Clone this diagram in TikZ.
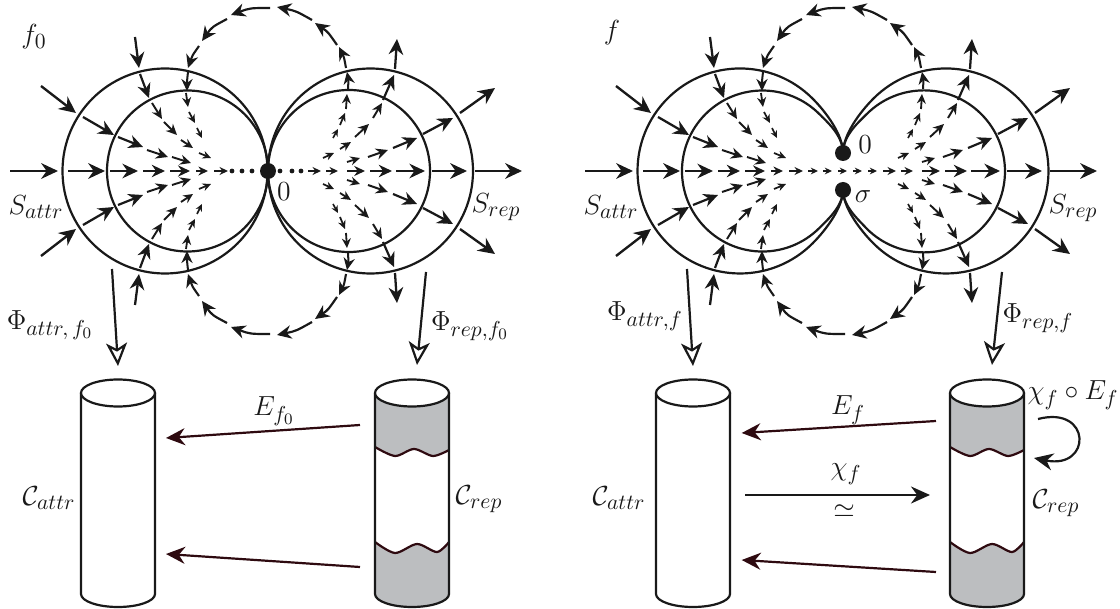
\documentclass[tikz,border=0pt]{standalone}
\usepackage{fix-cm}
\usepackage{amsmath}
\usepackage{amssymb}
\usetikzlibrary{arrows.meta}
\definecolor{maroonline}{HTML}{2E0A10}
\definecolor{drumgray}{HTML}{BCBEC0}
\DeclareMathSizes{13.8}{13.8}{10.8}{8}

% one arrow of the flow, tip size in the last value
\newcommand{\flowseg}[6][--]{%
	\pgfmathsetmacro{\tiplen}{0.6*#6}
	\pgfmathsetmacro{\tipwid}{0.56*#6}
	\pgfmathsetmacro{\wid}{0.55+0.045*#6}
	\draw[line width=\wid pt, black!90, -{Stealth[length=\tiplen pt, width=\tipwid pt]}] (#2,#3) #1 (#4,#5);
}

% upper half of the flow lines
\newcommand{\flowhalf}{%
	\foreach \xa/\ya/\xb/\yb/\s in {
		41/86/76/113/14, 83/117/114/135/13, 118/137/143/147/12, 147/150/168/157/10, 172/157/191/163/9,
		135/37/139/68/13, 140/74/149/98/12, 152/103/162/119/9, 164/122/177/135/9, 181/140/193/148/8, 199/153/211/158/7,
		347/162/360/158/8, 368/157/388/150/10, 393/148/417/138/12, 423/134/453/118/13, 460/113/495/88/14,
		323/158/334/153/7, 340/149/351/142/8, 355/137/369/124/9, 373/118/382/103/9, 383/100/394/75/12, 395/69/397/39/13,
		333/138/338/129/6, 340/125/345/113/7, 346/109/347/94/8, 189/112/195/123/7, 197/128/202/138/6, 186/93/188/107/8}
		{\flowseg{\xa}{\ya}{\xb}{\yb}{\s}}
	% the big arc over the top
	\foreach \xa/\ya/\xc/\yc/\xb/\yb/\s in {
		348/89/348.5/80/347/72/10, 346/68/344/57/339/47/11, 337/45/328/32/315/23/12, 312/20/296/11/277/7/12,
		270/8/250/8/231/15/12, 227/19/212/27/202/41/12, 199/46/192/56/188/68/11, 188/72/187/81/187/91/10}
		{\flowseg[.. controls (\xc,\yc) ..]{\xa}{\ya}{\xb}{\yb}{\s}}
}

% whole flow with the axis
\newcommand{\flowfield}{%
	\flowhalf
	\begin{scope}[shift={(0,342)}, yscale=-1]
		\flowhalf
	\end{scope}
	\foreach \xa/\xb/\s in {10/58/14, 68/105/14, 110/138/13, 143/165/11, 170/190/10, 196/208/8, 214/228/7,
		308/321/7, 326/338/7, 347/365/9, 370/392/11, 396/425/13, 432/467/14, 475/522/14}
		{\flowseg{\xa}{171}{\xb}{171}{\s}}
}

% plain drum at x centre
\newcommand{\drum}[1]{%
	\draw[drumline] ({#1-37},393) -- ({#1-37},594) arc[start angle=180, end angle=0, x radius=37, y radius=13] -- ({#1+37},393);
	\draw[drumline, fill=white] (#1,393) ellipse [x radius=37, y radius=13.5];
}

% drum with shaded ends
\newcommand{\shadeddrum}{%
	\fill[drumgray] (375,393) -- plot[smooth] coordinates {(375,447) (395,456) (414,449) (433,456) (449,450)} -- (449,393) -- cycle;
	\fill[drumgray] (375,594) -- plot[smooth] coordinates {(375,542) (395,553) (417,544) (437,552) (449,542)} -- (449,594) arc[start angle=0, end angle=180, x radius=37, y radius=13] -- cycle;
	\draw[waveline] plot[smooth] coordinates {(375,447) (395,456) (414,449) (433,456) (449,450)};
	\draw[waveline] plot[smooth] coordinates {(375,542) (395,553) (417,544) (437,552) (449,542)};
	\drum{412}
}

\begin{document}
\begin{tikzpicture}[
		x=0.5pt, y=-0.5pt,
		font=\fontsize{13.8}{16}\selectfont,
		ring/.style={line width=1.1pt, black!90},
		bigdot/.style={circle, fill=black!90, inner sep=0pt, minimum size=8pt},
		tinydot/.style={circle, fill=black!90, inner sep=0pt, minimum size=2.4pt},
		lab/.style={inner sep=0pt, black!90},
		drumline/.style={line width=1.1pt, black!90},
		waveline/.style={line width=1.1pt, maroonline},
		mapline/.style={line width=1.1pt, maroonline, -{Stealth[length=9.5pt, width=8.5pt]}},
		plainmap/.style={line width=1.1pt, black!90, -{Stealth[length=9.5pt, width=8.5pt]}},
		proj/.style={line width=1.1pt, black!90, -{Stealth[open, fill=white, length=11.5pt, width=10.5pt, inset=3pt]}}
		]
	\useasboundingbox (0,0) rectangle (1120,609);
	
	% Left picture
	\draw[ring] (165,171) circle [radius=102.5];
	\draw[ring] (187.5,171) circle [radius=80.5];
	\draw[ring] (370.5,171) circle [radius=102.5];
	\draw[ring] (349,171) circle [radius=81];
	\flowfield
	\foreach \x in {232,242,252,280,292,301}
		\node[tinydot] (dot\x) at (\x,171) {};
	\node[bigdot] (zero) at (268,171) {};
	\node[lab] (zerolab) at (284,192) {$0$};
	\node[lab] (flab) at (34,37) {$f_0$};
	\node[lab] (sattr) at (36,207) {$S_{attr}$};
	\node[lab] (srep) at (496,207) {$S_{rep}$};
	\node[lab] (phiattr) at (50,325) {$\Phi_{attr,\,f_0}$};
	\node[lab] (phirep) at (470,326) {$\Phi_{rep,f_0}$};
	
	% Projections
	\coordinate (pa0) at (112,269);
	\coordinate (pa1) at (118,366);
	\coordinate (pr0) at (426,272);
	\coordinate (pr1) at (417,365);
	\draw[proj] (pa0) -- (pa1);
	\draw[proj] (pr0) -- (pr1);
	
	% Drums
	\drum{118}
	\shadeddrum
	\node[lab] (cattr) at (49,498) {$\mathcal{C}_{attr}$};
	\node[lab] (crep) at (479,499) {$\mathcal{C}_{rep}$};
	
	\coordinate (ea0) at (360,425);
	\coordinate (ea1) at (166,438);
	\coordinate (eb0) at (360,567);
	\coordinate (eb1) at (166,554);
	\draw[mapline] (ea0) -- (ea1);
	\draw[mapline] (eb0) -- (eb1);
	\node[lab] (elab) at (274,411) {$E_{f_0}$};
	
	% Right picture
	\begin{scope}[shift={(575,0)}]
		% rings opened up at the two points
		\draw[ring] (268,153) .. controls (268,135) and (251.5,112.5) .. (237.5,98.5) arc[start angle=-45, end angle=-315, radius=102.5] .. controls (251.5,229.5) and (268,207) .. (268,190);
		\draw[ring] (268,153) .. controls (268,135) and (251,121) .. (244.4,114.1) arc[start angle=-45, end angle=-315, radius=80.5] .. controls (251,221) and (268,207) .. (268,190);
		\draw[ring] (268,153) .. controls (268,135) and (284.5,112.5) .. (298.5,98.5) arc[start angle=-135, end angle=135, radius=102.5] .. controls (284.5,229.5) and (268,207) .. (268,190);
		\draw[ring] (268,153) .. controls (268,135) and (285,121) .. (291.7,114.1) arc[start angle=-135, end angle=135, radius=81] .. controls (285,221) and (268,207) .. (268,190);
		\flowfield
		\foreach \xa/\xb in {233/243, 248/257, 263/272, 278/287, 293/302}
			{\flowseg{\xa}{171}{\xb}{171}{6}}
		\node[bigdot] (zerob) at (268,153) {};
		\node[bigdot] (sigma) at (268,190) {};
		\node[lab] (zeroblab) at (290,145) {$0$};
		\node[lab] (sigmalab) at (288,197) {$\sigma$};
		\node[lab] (fblab) at (37,33) {$f$};
		\node[lab] (sattrb) at (36,207) {$S_{attr}$};
		\node[lab] (srepb) at (498,208) {$S_{rep}$};
		\node[lab] (phiattrb) at (70,316) {$\Phi_{attr,f}$};
		\node[lab] (phirepb) at (463,318) {$\Phi_{rep,f}$};
		
		\coordinate (pab0) at (112,269);
		\coordinate (pab1) at (118,366);
		\coordinate (prb0) at (427,272);
		\coordinate (prb1) at (417,365);
		\draw[proj] (pab0) -- (pab1);
		\draw[proj] (prb0) -- (prb1);
		
		\drum{118}
		\shadeddrum
		\node[lab] (cattrb) at (44,498) {$\mathcal{C}_{attr}$};
		\node[lab] (crepb) at (481,503) {$\mathcal{C}_{rep}$};
		
		\coordinate (fa0) at (361,421);
		\coordinate (fa1) at (166.7,433);
		\coordinate (fb0) at (361,572);
		\coordinate (fb1) at (166.7,560);
		\coordinate (ch0) at (170,495);
		\coordinate (ch1) at (355,495);
		\draw[mapline] (fa0) -- (fa1);
		\draw[mapline] (fb0) -- (fb1);
		\draw[plainmap] (ch0) -- (ch1);
		\node[lab] (eflab) at (273,410) {$E_f$};
		\node[lab] (chilab) at (271,474) {$\chi_f$};
		\node[lab] (simlab) at (269,511) {$\simeq$};
		\node[lab] (complab) at (498,395) {$\chi_f\circ E_f$};
		
		\coordinate (lp0) at (463,419);
		\coordinate (lp1) at (459,458);
		\draw[plainmap] (lp0) .. controls (517,405) and (517,470) .. (lp1);
	\end{scope}
\end{tikzpicture}
\end{document}
